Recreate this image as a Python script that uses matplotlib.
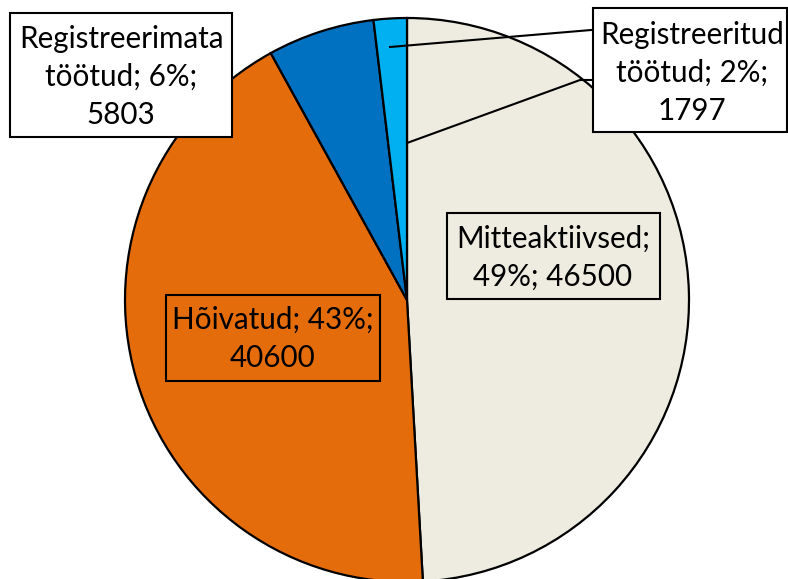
import matplotlib
matplotlib.use("Agg")
import matplotlib.pyplot as plt
from matplotlib.patches import Rectangle

labels = ["Mitteaktiivsed", "Hõivatud", "Registreerimata\ntöötud", "Registreeritud\ntöötud"]
values = [46500, 40600, 5803, 1797]
percents = [49, 43, 6, 2]
colors = ["#EEECE1", "#E46C0A", "#0070C0", "#00B0F0"]

W, H = 788, 579
cx, cy, R = 407, 300, 282

def P(x, y):
    # pixel position -> data units (pie radius = 1)
    return (x - cx) / R, (cy - y) / R

fig = plt.figure(figsize=(W / 100, H / 100), dpi=100)
ax = fig.add_axes([0, 0, 1, 1])
ax.pie(values, colors=colors, startangle=90, counterclock=False,
       wedgeprops=dict(edgecolor="black", linewidth=1.6))
ax.set_xlim(P(0, 0)[0], P(W, 0)[0])
ax.set_ylim(P(0, H)[1], P(0, 0)[1])
ax.set_aspect("equal")
ax.axis("off")

plt.rcParams['font.family'] = ['Lato', 'DejaVu Sans']
fs = 21.3

# leader lines for the small slice
ax.plot(*zip(P(603, 29), P(390, 47)), color="black", lw=1.5)
ax.plot(*zip(P(593, 80), P(580, 80), P(407, 143)), color="black", lw=1.5)

def box(x0, y0, x1, y1, face):
    a = P(x0, y1)
    ax.add_patch(Rectangle(a, (x1 - x0) / R, (y1 - y0) / R, facecolor=face,
                           edgecolor="black", lw=1.5, zorder=3))

def txt(x, y, s):
    ax.text(*P(x, y), s, ha="center", va="center", fontsize=fs,
            linespacing=1.42, zorder=4, family=['Lato', 'DejaVu Sans'])

box(10, 13, 232, 137, "white")
txt(121, 77, "Registreerimata\ntöötud; %d%%;\n%d" % (percents[2], values[2]))

box(593, 8, 787, 132, "white")
txt(692, 73, "Registreeritud\ntöötud; %d%%;\n%d" % (percents[3], values[3]))

box(447, 213, 660, 299, "none")
txt(553, 258, "Mitteaktiivsed;\n%d%%; %d" % (percents[0], values[0]))

box(166, 295, 380, 381, "none")
txt(273, 339, "Hõivatud; %d%%;\n%d" % (percents[1], values[1]))

fig.savefig("out.png", dpi=100)
